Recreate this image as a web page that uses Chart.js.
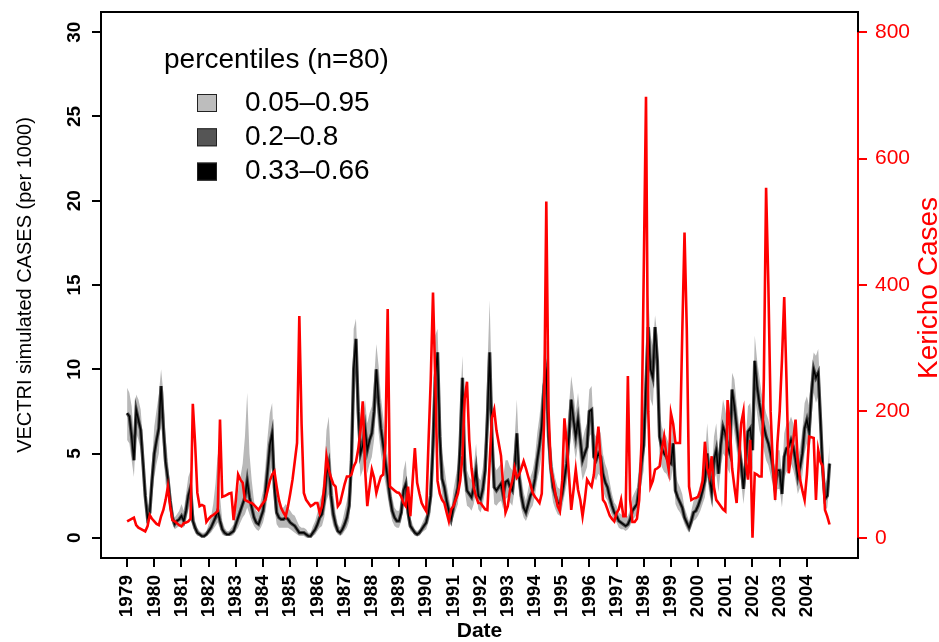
<!DOCTYPE html>
<html>
<head>
<meta charset="utf-8">
<script src="https://cdn.jsdelivr.net/npm/chart.js@4/dist/chart.umd.min.js"></script>
<style>
  html, body { margin: 0; padding: 0; background: #fff; }
  #wrap { width: 939px; height: 642px; position: relative; }
</style>
</head>
<body>
<div id="wrap"><canvas id="chart"></canvas></div>
<script>
const START_YEAR = 1979;
const yearTicks = [1979, 1980, 1981, 1982, 1983, 1984, 1985, 1986, 1987, 1988, 1989, 1990, 1991,
  1992, 1993, 1994, 1995, 1996, 1997, 1998, 1999, 2000, 2001, 2002, 2003, 2004];
const leftTicks = [0, 5, 10, 15, 20, 25, 30];
const rightTicks = [0, 200, 400, 600, 800];
const bandLabels = ['0.05\u20130.95', '0.2\u20130.8', '0.33\u20130.66'];

// VECTRI ensemble median (monthly, Jan 1979 -> Nov 2004)
const vectriMid = [
  7.4, 7.2, 6.0, 4.6, 7.6, 7.0, 6.4, 4.5, 2.5, 1.2, 1.5, 3.4,
  5.0, 5.8, 6.5, 9.0, 6.5, 4.5, 3.5, 2.2, 1.2, 0.8, 1.0, 1.1,
  1.3, 1.0, 1.6, 2.5, 3.0, 1.0, 0.6, 0.3, 0.2, 0.1, 0.1, 0.2,
  0.4, 0.6, 0.9, 1.2, 1.6, 1.0, 0.5, 0.3, 0.2, 0.2, 0.3, 0.4,
  0.8, 1.2, 1.6, 2.0, 2.4, 3.4, 2.4, 1.8, 1.2, 0.9, 0.8, 1.2,
  1.6, 2.6, 4.0, 5.5, 6.2, 3.0, 1.5, 1.2, 1.1, 1.1, 1.2, 1.1,
  0.9, 0.8, 0.7, 0.5, 0.3, 0.3, 0.3, 0.2, 0.1, 0.1, 0.3, 0.5,
  0.8, 1.2, 1.4, 2.2, 3.8, 4.4, 2.5, 1.4, 0.8, 0.4, 0.3, 0.5,
  0.8, 1.2, 1.9, 4.5, 10.0, 11.8, 7.5, 5.0, 5.5, 6.5, 5.2, 5.8,
  6.2, 7.5, 10.0, 8.0, 6.5, 5.5, 4.5, 3.5, 2.4, 1.6, 1.2, 1.0,
  1.0, 1.5, 2.8, 3.2, 1.5, 0.7, 0.5, 0.3, 0.2, 0.3, 0.5, 0.7,
  0.9, 1.5, 2.5, 5.5, 9.5, 11.0, 6.0, 3.5, 3.0, 2.2, 1.6, 1.1,
  1.8, 2.4, 3.0, 5.5, 9.5, 4.0, 2.8, 2.6, 2.4, 3.0, 4.0, 2.5,
  2.3, 2.9, 4.0, 7.0, 11.0, 6.0, 3.0, 2.8, 3.0, 3.2, 2.5, 3.3,
  3.4, 3.0, 2.8, 4.0, 6.2, 3.6, 2.5, 1.8, 1.5, 2.0, 2.5, 2.8,
  3.5, 4.6, 5.5, 6.6, 9.0, 9.8, 6.0, 4.2, 3.0, 2.5, 2.1, 2.0,
  2.6, 3.5, 4.4, 6.0, 8.2, 7.0, 6.0, 7.0, 5.8, 4.6, 5.0, 5.4,
  7.5, 7.6, 4.8, 4.6, 5.0, 4.8, 3.8, 3.3, 3.0, 2.4, 1.9, 1.5,
  1.3, 1.0, 0.9, 0.8, 0.7, 0.8, 1.1, 1.6, 1.8, 2.0, 3.0, 4.4,
  5.5, 9.0, 12.5, 10.0, 9.5, 12.5, 10.5, 6.0, 5.3, 5.0, 4.8, 4.5,
  4.4, 5.6, 2.8, 2.4, 2.1, 1.8, 1.2, 0.9, 0.6, 1.0, 1.5, 1.6,
  1.9, 2.3, 2.8, 3.4, 5.0, 3.6, 2.7, 4.6, 5.2, 3.8, 5.5, 6.6,
  6.2, 5.4, 5.0, 8.8, 7.8, 6.6, 5.4, 4.4, 2.9, 4.5, 6.3, 6.5,
  5.2, 10.5, 9.0, 8.0, 7.2, 6.6, 6.0, 5.6, 5.0, 4.2, 3.0, 4.0,
  4.0, 2.6, 4.8, 5.3, 5.4, 5.8, 5.4, 4.6, 3.6, 4.2, 5.0, 6.5,
  7.0, 6.3, 8.5, 10.0, 9.5, 9.8, 7.0, 4.0, 2.3, 2.5, 4.4
];

// 95th percentile
const vectriHi = [
  8.9, 8.6, 7.8, 6.0, 8.5, 8.2, 7.6, 5.8, 3.4, 1.8, 2.2, 4.6,
  6.6, 7.6, 8.5, 10.0, 8.6, 6.0, 4.6, 3.0, 1.7, 1.2, 1.4, 1.6,
  2.0, 1.6, 2.6, 3.6, 4.0, 1.8, 1.0, 0.6, 0.4, 0.3, 0.3, 0.4,
  0.8, 1.2, 2.0, 3.2, 5.0, 2.5, 1.0, 0.6, 0.4, 0.4, 0.6, 0.8,
  1.8, 2.8, 3.6, 4.4, 6.0, 8.6, 5.0, 3.4, 2.2, 1.6, 1.5, 2.2,
  2.8, 4.2, 6.0, 7.4, 8.0, 4.8, 2.6, 2.0, 1.8, 1.8, 2.0, 1.8,
  1.6, 1.4, 1.3, 1.0, 0.7, 0.6, 0.6, 0.5, 0.3, 0.3, 0.7, 1.0,
  1.5, 2.2, 2.6, 4.0, 6.4, 7.2, 4.4, 2.6, 1.5, 0.8, 0.6, 1.0,
  1.6, 2.2, 3.2, 7.0, 12.4, 13.0, 9.6, 6.6, 7.0, 8.2, 6.8, 7.4,
  7.8, 9.4, 11.5, 10.2, 8.4, 7.2, 6.0, 4.8, 3.4, 2.4, 1.8, 1.6,
  1.6, 2.4, 4.0, 4.6, 2.4, 1.2, 0.8, 0.5, 0.4, 0.5, 0.8, 1.1,
  1.4, 2.4, 4.0, 8.0, 12.0, 12.4, 8.4, 5.0, 4.2, 3.2, 2.4, 1.7,
  2.8, 3.6, 4.4, 8.0, 10.8, 5.8, 4.0, 3.6, 3.4, 4.2, 5.6, 3.6,
  3.4, 4.2, 5.8, 10.0, 14.1, 8.6, 4.4, 4.0, 4.2, 4.4, 3.6, 4.6,
  4.6, 4.2, 4.0, 5.8, 8.2, 5.0, 3.6, 2.7, 2.2, 2.9, 3.6, 4.0,
  4.8, 6.2, 7.2, 8.6, 11.0, 11.7, 8.0, 5.6, 4.2, 3.5, 3.0, 2.9,
  3.6, 4.8, 6.0, 7.8, 9.6, 8.6, 7.4, 8.6, 7.2, 5.8, 6.4, 6.8,
  8.8, 9.0, 6.2, 6.0, 6.6, 6.2, 5.0, 4.4, 4.0, 3.3, 2.6, 2.1,
  1.9, 1.5, 1.4, 1.3, 1.2, 1.3, 1.7, 2.4, 2.7, 3.0, 4.4, 6.0,
  7.4, 11.5, 14.4, 12.0, 11.4, 13.2, 12.0, 7.6, 6.6, 6.2, 6.0, 5.6,
  5.6, 7.0, 3.8, 3.3, 3.0, 2.6, 1.8, 1.4, 1.0, 1.6, 2.2, 2.3,
  2.7, 3.2, 3.9, 4.7, 6.8, 4.9, 3.8, 6.0, 6.8, 5.0, 7.0, 8.2,
  7.6, 6.8, 6.4, 9.8, 9.4, 8.0, 6.8, 5.6, 4.0, 5.8, 7.8, 8.0,
  6.6, 12.0, 10.6, 9.6, 8.6, 8.0, 7.4, 7.0, 6.4, 5.4, 4.0, 5.2,
  5.2, 3.6, 6.2, 6.8, 6.8, 7.2, 6.8, 5.8, 4.7, 5.4, 6.4, 8.0,
  8.4, 7.8, 10.0, 11.0, 10.8, 11.2, 8.6, 5.4, 3.2, 3.5, 5.6
];

// 5th percentile
const vectriLo = [
  5.8, 5.6, 4.6, 3.6, 6.2, 5.8, 5.2, 3.5, 1.8, 0.8, 1.0, 2.4,
  3.6, 4.4, 5.0, 7.4, 5.0, 3.2, 2.6, 1.5, 0.8, 0.5, 0.6, 0.7,
  0.8, 0.6, 1.0, 1.6, 2.0, 0.6, 0.3, 0.1, 0.1, 0.0, 0.0, 0.1,
  0.2, 0.3, 0.5, 0.7, 0.9, 0.5, 0.2, 0.1, 0.1, 0.1, 0.1, 0.2,
  0.4, 0.6, 0.9, 1.2, 1.4, 1.8, 1.4, 1.0, 0.7, 0.5, 0.4, 0.6,
  0.9, 1.5, 2.4, 3.6, 4.2, 1.8, 0.8, 0.6, 0.6, 0.6, 0.6, 0.6,
  0.5, 0.4, 0.3, 0.2, 0.1, 0.1, 0.1, 0.0, 0.0, 0.0, 0.1, 0.2,
  0.4, 0.6, 0.7, 1.2, 2.2, 2.6, 1.3, 0.7, 0.4, 0.2, 0.1, 0.2,
  0.4, 0.6, 1.0, 2.8, 7.6, 9.6, 5.6, 3.6, 4.0, 5.0, 3.8, 4.4,
  4.8, 5.8, 8.0, 6.2, 5.0, 4.0, 3.2, 2.4, 1.6, 1.0, 0.7, 0.6,
  0.6, 1.0, 1.9, 2.2, 0.9, 0.4, 0.3, 0.1, 0.1, 0.1, 0.3, 0.4,
  0.5, 0.9, 1.5, 3.6, 7.2, 8.8, 4.2, 2.4, 2.0, 1.4, 1.0, 0.7,
  1.2, 1.6, 2.0, 3.8, 7.4, 2.8, 1.9, 1.8, 1.6, 2.0, 2.8, 1.7,
  1.5, 2.0, 2.8, 4.8, 8.4, 4.2, 2.0, 1.9, 2.1, 2.2, 1.7, 2.3,
  2.4, 2.1, 1.9, 2.8, 4.6, 2.5, 1.7, 1.2, 1.0, 1.3, 1.7, 1.9,
  2.5, 3.4, 4.0, 5.0, 7.0, 7.8, 4.4, 3.0, 2.1, 1.7, 1.4, 1.3,
  1.8, 2.5, 3.2, 4.4, 6.6, 5.6, 4.6, 5.6, 4.4, 3.4, 3.8, 4.2,
  6.0, 6.2, 3.6, 3.4, 3.8, 3.6, 2.8, 2.4, 2.2, 1.7, 1.3, 1.0,
  0.9, 0.6, 0.5, 0.5, 0.4, 0.5, 0.7, 1.1, 1.2, 1.4, 2.0, 3.2,
  4.0, 7.0, 10.4, 8.2, 7.8, 10.4, 8.6, 4.6, 4.2, 3.9, 3.8, 3.5,
  3.4, 4.4, 2.0, 1.7, 1.5, 1.2, 0.8, 0.5, 0.3, 0.6, 1.0, 1.1,
  1.3, 1.6, 2.0, 2.4, 3.6, 2.6, 1.9, 3.4, 3.8, 2.7, 4.1, 5.0,
  4.8, 4.1, 3.8, 7.2, 6.2, 5.2, 4.1, 3.3, 2.0, 3.3, 4.8, 5.0,
  3.9, 8.4, 7.4, 6.4, 5.8, 5.2, 4.6, 4.3, 3.7, 3.1, 2.1, 2.9,
  2.9, 1.8, 3.5, 3.9, 4.0, 4.4, 4.0, 3.4, 2.6, 3.0, 3.7, 5.0,
  5.6, 5.0, 7.0, 8.6, 8.0, 8.4, 5.6, 2.9, 1.6, 1.8, 3.2
];

// Kericho observed cases (monthly)
const kerichoCases = [
  26, 28, 30, 32, 20, 16, 14, 12, 10, 18, 36, 30,
  26, 22, 20, 34, 44, 60, 81, 50, 28, 26, 23, 20,
  18, 23, 24, 26, 30, 212, 150, 71, 50, 52, 50, 25,
  30, 34, 36, 39, 42, 187, 65, 66, 68, 70, 71, 28,
  60, 100, 92, 87, 60, 58, 56, 55, 52, 48, 44, 50,
  55, 60, 75, 90, 100, 105, 81, 60, 47, 40, 34, 50,
  70, 92, 121, 150, 351, 180, 71, 60, 55, 50, 52, 55,
  55, 39, 50, 80, 129, 108, 95, 85, 81, 50, 55, 70,
  85, 97, 97, 100, 113, 120, 140, 170, 216, 110, 50, 80,
  108, 95, 71, 85, 97, 100, 150, 362, 81, 78, 75, 72,
  71, 65, 55, 50, 81, 34, 90, 142, 87, 70, 55, 48,
  42, 150, 250, 388, 250, 90, 70, 60, 55, 40, 26, 45,
  50, 60, 70, 90, 130, 220, 247, 155, 110, 80, 65, 55,
  55, 50, 45, 44, 120, 190, 203, 170, 150, 130, 80, 40,
  50, 76, 90, 111, 95, 100, 110, 121, 110, 97, 85, 71,
  65, 60, 55, 70, 180, 532, 200, 110, 92, 70, 50, 42,
  90, 189, 150, 100, 44, 75, 108, 76, 60, 34, 60, 92,
  86, 81, 100, 140, 176, 120, 60, 55, 45, 35, 30, 26,
  39, 45, 60, 34, 34, 256, 60, 25, 25, 30, 60, 150,
  420, 698, 200, 81, 90, 108, 110, 113, 140, 160, 130, 108,
  197, 180, 150, 150, 150, 324, 483, 330, 81, 60, 62, 63,
  65, 75, 90, 152, 110, 97, 129, 80, 60, 55, 50, 45,
  42, 218, 176, 110, 81, 55, 120, 181, 200, 120, 92, 155,
  0, 102, 100, 97, 97, 250, 554, 400, 200, 113, 60, 150,
  200, 281, 381, 250, 102, 130, 155, 187, 120, 92, 75, 60,
  100, 160, 159, 158, 60, 139, 120, 113, 44, 34, 21
];

const FONT = "'Liberation Sans', Arial, Helvetica, sans-serif";
Chart.defaults.font.family = FONT;
Chart.defaults.color = '#000';

const toPoints = arr => arr.map((v, i) => ({ x: START_YEAR + i / 12, y: v }));

const bandColors = ['#bdbdbd', '#555555', '#000000'];

// draws the frame, red right axis line, right title and the legend
const overlay = {
  id: 'overlay',
  afterDraw(chart) {
    const { ctx, chartArea: a, scales } = chart;
    ctx.save();
    ctx.strokeStyle = '#000';
    ctx.lineWidth = 2;
    ctx.strokeRect(a.left, a.top, a.right - a.left, a.bottom - a.top);

    const r = scales.y2;
    ctx.strokeStyle = '#ff0000';
    ctx.beginPath();
    ctx.moveTo(a.right, r.getPixelForValue(rightTicks[0]));
    ctx.lineTo(a.right, r.getPixelForValue(rightTicks[rightTicks.length - 1]));
    ctx.stroke();

    ctx.translate(929, 288);
    ctx.rotate(-Math.PI / 2);
    ctx.fillStyle = '#ff0000';
    ctx.font = '28px ' + FONT;
    ctx.textAlign = 'center';
    ctx.textBaseline = 'middle';
    ctx.fillText('Kericho Cases', 0, 0);
    ctx.restore();

    // legend
    ctx.save();
    ctx.fillStyle = '#000';
    ctx.font = '28px ' + FONT;
    ctx.textAlign = 'left';
    ctx.textBaseline = 'middle';
    ctx.fillText('percentiles (n=80)', 164, 60);
    bandLabels.forEach((lab, k) => {
      const cy = 103 + k * 34.3;
      ctx.fillStyle = bandColors[k];
      ctx.fillRect(197, cy - 9, 20, 18);
      ctx.strokeStyle = '#222';
      ctx.lineWidth = 1;
      ctx.strokeRect(197.5, cy - 8.5, 19, 17);
      ctx.fillStyle = '#000';
      ctx.fillText(lab, 245, cy);
    });
    ctx.restore();
  }
};

new Chart(document.getElementById('chart'), {
  type: 'line',
  data: {
    datasets: [
      {
        label: 'Kericho Cases',
        data: toPoints(kerichoCases),
        yAxisID: 'y2',
        borderColor: '#ff0000',
        borderWidth: 2.6,
        pointRadius: 0,
        order: 0
      },
      {
        label: 'median',
        data: toPoints(vectriMid),
        yAxisID: 'y',
        borderColor: '#000000',
        borderWidth: 1.4,
        pointRadius: 0,
        order: 1
      },
      {
        label: 'core',
        data: toPoints(vectriMid),
        yAxisID: 'y',
        borderColor: '#4a4a4a',
        borderWidth: 3.4,
        pointRadius: 0,
        order: 2
      },
      {
        label: 'p95',
        data: toPoints(vectriHi),
        yAxisID: 'y',
        borderWidth: 0,
        borderColor: 'rgba(0,0,0,0)',
        backgroundColor: '#b8b8b8',
        fill: '+1',
        pointRadius: 0,
        order: 3
      },
      {
        label: 'p05',
        data: toPoints(vectriLo),
        yAxisID: 'y',
        borderWidth: 0,
        borderColor: 'rgba(0,0,0,0)',
        pointRadius: 0,
        order: 4
      }
    ]
  },
  options: {
    responsive: true,
    maintainAspectRatio: false,
    animation: false,
    layout: { padding: { top: 12, left: 0, right: 0, bottom: 0 } },
    plugins: {
      legend: { display: false },
      tooltip: { enabled: false }
    },
    elements: { line: { tension: 0 } },
    scales: {
      x: {
        type: 'linear',
        min: 1978.04,
        max: 2005.88,
        afterBuildTicks: s => { s.ticks = yearTicks.map(v => ({ value: v })); },
        afterFit: s => { s.height = 84; s.paddingLeft = 0; s.paddingRight = 0; },
        border: { display: false },
        grid: { drawOnChartArea: false, drawTicks: true, tickLength: 9, color: '#000', lineWidth: 2 },
        ticks: {
          autoSkip: false,
          minRotation: 90,
          maxRotation: 90,
          padding: 8,
          font: { size: 19, weight: 'bold' },
          color: '#000',
          callback: v => String(v)
        },
        title: {
          display: true,
          text: 'Date',
          font: { size: 21, weight: 'bold', lineHeight: 1 },
          padding: { top: 0, bottom: 0 },
          color: '#000'
        }
      },
      y: {
        position: 'left',
        min: -1.2,
        max: 31.2,
        afterBuildTicks: s => { s.ticks = leftTicks.map(v => ({ value: v })); },
        afterFit: s => { s.width = 101; s.paddingTop = 0; s.paddingBottom = 0; },
        border: { display: false },
        grid: { drawOnChartArea: false, drawTicks: true, tickLength: 9, color: '#000', lineWidth: 2 },
        ticks: {
          minRotation: 90,
          maxRotation: 90,
          crossAlign: 'center',
          padding: 7,
          font: { size: 19, weight: 'bold' },
          color: '#000'
        },
        title: {
          display: true,
          text: 'VECTRI simulated CASES (per 1000)',
          font: { size: 20, lineHeight: 1 },
          padding: { top: 15, bottom: 0 },
          color: '#000'
        }
      },
      y2: {
        position: 'right',
        min: -32,
        max: 832,
        afterBuildTicks: s => { s.ticks = rightTicks.map(v => ({ value: v })); },
        afterFit: s => { s.width = 81; s.paddingTop = 0; s.paddingBottom = 0; },
        border: { display: false },
        grid: { drawOnChartArea: false, drawTicks: true, tickLength: 9, color: '#ff0000', lineWidth: 2 },
        ticks: {
          padding: 8,
          font: { size: 21 },
          color: '#ff0000'
        }
      }
    }
  },
  plugins: [overlay]
});
</script>
</body>
</html>
